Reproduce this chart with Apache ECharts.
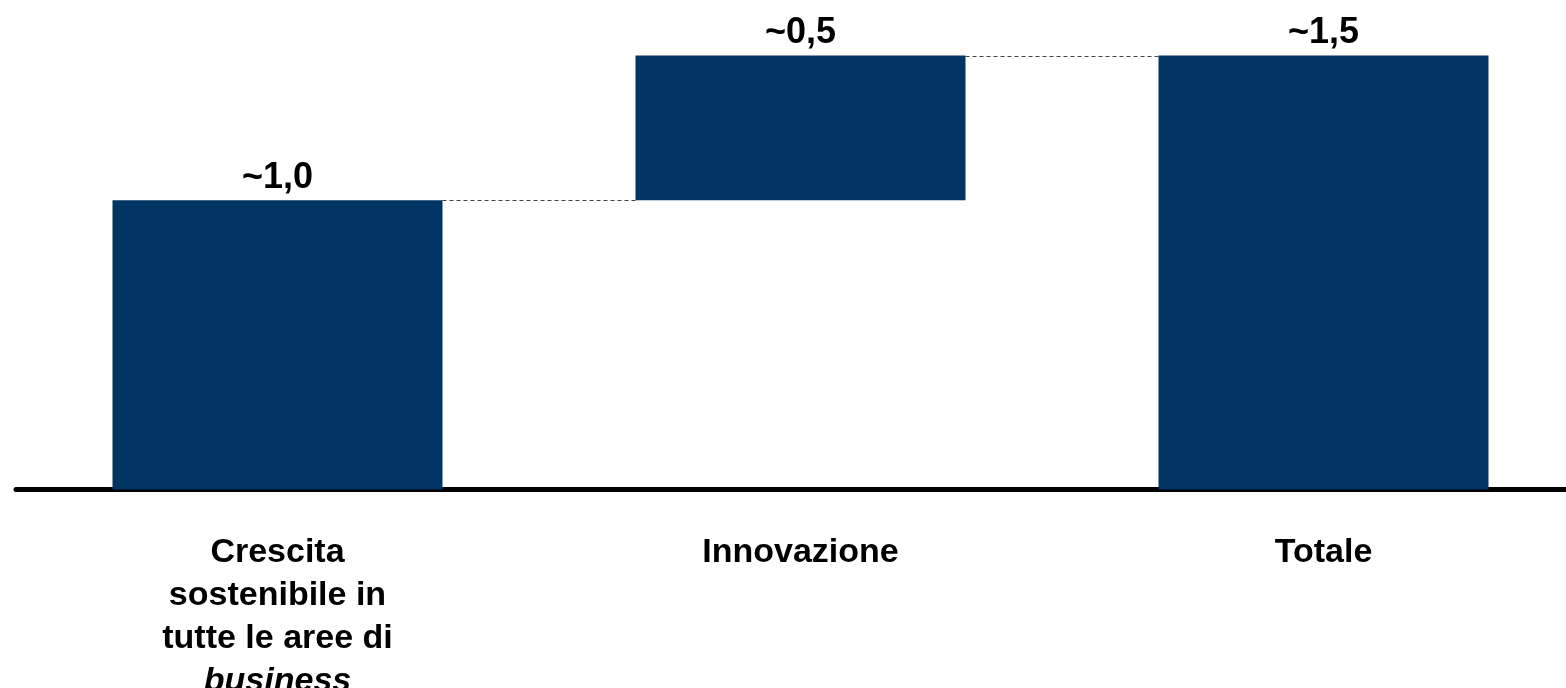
<!DOCTYPE html>
<html>
<head>
<meta charset="utf-8">
<script src="https://cdn.jsdelivr.net/npm/echarts@6/dist/echarts.min.js"></script>
<style>
html,body{margin:0;padding:0;background:#fff;}
#chart{width:1566px;height:688px;}
</style>
</head>
<body>
<div id="chart"></div>
<script>
// Data
const categories = ['Crescita\nsostenibile in\ntutte le aree di\nbusiness', 'Innovazione', 'Totale'];
const baseValues = [0, 1.0, 0];
const barValues = [1.0, 0.5, 1.5];
const valueLabels = ['~1,0', '~0,5', '~1,5'];
const connectorLevels = [1.0, 1.5];

const BAR_RATIO = 0.631;
const chart = echarts.init(document.getElementById('chart'), null, {renderer: 'canvas'});
const FONT = '"Liberation Sans", Arial, sans-serif';

const option = {
  animation: false,
  backgroundColor: '#ffffff',
  grid: {left: 16, width: 1569, top: 55.5, bottom: 198.5, containLabel: false, outerBoundsMode: 'none'},
  xAxis: {
    type: 'category',
    data: categories,
    axisLine: {show: true, lineStyle: {color: '#000', width: 5, cap: 'round'}},
    axisTick: {show: false},
    axisLabel: {
      interval: 0,
      margin: 42,
      formatter: function (v) {
        if (v.indexOf('business') >= 0) {
          const parts = v.split('\n');
          return parts.slice(0, 3).map(p => '{b|' + p + '}').join('\n') + '\n{i|' + parts[3] + '}';
        }
        return '{b|' + v + '}';
      },
      rich: {
        b: {fontFamily: FONT, fontWeight: 'bold', fontSize: 34, color: '#000', lineHeight: 43, align: 'center'},
        i: {fontFamily: FONT, fontWeight: 'bold', fontStyle: 'italic', fontSize: 34, color: '#000', lineHeight: 43, align: 'center'}
      }
    },
    splitLine: {show: false}
  },
  yAxis: {
    type: 'value', min: 0, max: 1.5, show: false, splitLine: {show: false}
  },
  series: [
    {
      type: 'bar', stack: 'w', data: baseValues, barWidth: (BAR_RATIO * 100) + '%',
      itemStyle: {color: 'transparent'}, silent: true
    },
    {
      type: 'bar', stack: 'w', data: barValues, barWidth: (BAR_RATIO * 100) + '%',
      itemStyle: {color: '#003462'},
      label: {
        show: true, position: 'top', distance: 4,
        fontFamily: FONT, fontWeight: 'bold', fontSize: 36, color: '#000',
        formatter: p => valueLabels[p.dataIndex]
      }
    },
    {
      type: 'custom',
      data: connectorLevels.map((v, i) => [i, v]),
      renderItem: function (params, api) {
        const i = api.value(0);
        const v = api.value(1);
        const p1 = api.coord([i, v]);
        const p2 = api.coord([i + 1, v]);
        const bw = api.size([1, 0])[0];
        const y = Math.round(p1[1]) + 0.5;
        return {
          type: 'line',
          shape: {x1: p1[0] + bw * BAR_RATIO / 2, y1: y, x2: p2[0] - bw * BAR_RATIO / 2, y2: y},
          style: {stroke: '#444', lineWidth: 1, lineDash: [4, 3]}
        };
      },
      silent: true, z: 1
    }
  ]
};
chart.setOption(option);
</script>
</body>
</html>
